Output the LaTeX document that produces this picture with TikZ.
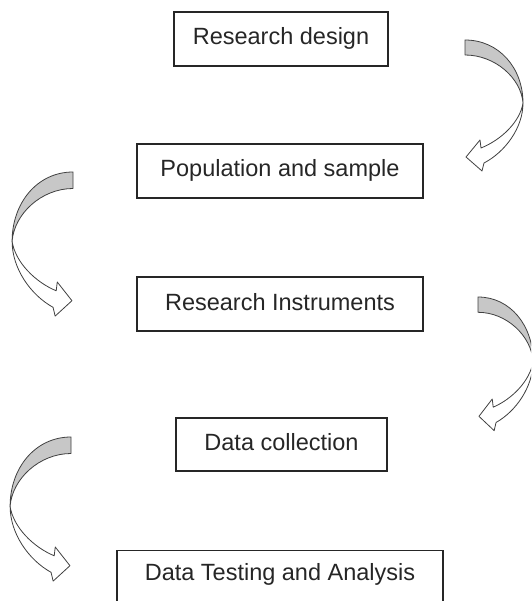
\documentclass[tikz,border=0pt]{standalone}
\usepackage{fontspec}
\setmainfont{Liberation Sans}

% bent arrow, drawn from the top corner of its tail
% #1 = tail corner, #2 = xscale (negative turns it to the left), #3 = yscale
\newcommand{\bendarrow}[3]{%
\begin{scope}[shift={#1},xscale=#2,yscale=#3]
\draw [twist] (0,0) .. controls (34,0) and (58,28) .. (58,63)
  .. controls (56,38) and (30,15) .. (0,15) -- cycle;
\draw [face] (58,63) .. controls (58,88) and (40,112) .. (19,123)
  -- (17,131) -- (1,117) -- (15,100) -- (16,108)
  .. controls (36,100) and (55,82) .. (58,63) -- cycle;
\end{scope}}

\begin{document}
\begin{tikzpicture}[x=1pt,y=-1pt,
  stage/.style={draw=black!85,line width=1.1pt,text=black!85,
    font=\fontsize{23.5}{28}\selectfont,inner sep=0pt,
    text height=17pt,text depth=5pt,minimum height=54pt},
  twist/.style={draw=black!75,line width=0.8pt,fill=black!22,line join=round},
  face/.style={draw=black!75,line width=0.8pt,fill=white,line join=round}]
\useasboundingbox (0,0) rectangle (531,601);
\clip (0,0) rectangle (531,601);

% the five steps
\node [stage,minimum width=214pt] (design) at (281,39) {Research design};
\node [stage,minimum width=286pt] (sample) at (280,171) {Population and sample};
\node [stage,minimum width=286pt] (instr) at (280,304) {Research Instruments};
\node [stage,minimum width=211pt,minimum height=53pt] (collect) at (281.5,444.5) {Data collection};
\node [stage,minimum width=326pt,text height=30pt,text depth=30pt,minimum height=0pt,anchor=north]
  (analysis) at (280,550) {Data Testing and Analysis};

% arrows between the steps
\bendarrow{(465,40)}{1}{1}
\bendarrow{(73,172)}{-1.05}{1.1}
\bendarrow{(478,297)}{0.95}{1.02}
\bendarrow{(71,437)}{-1.05}{1.1}

\end{tikzpicture}
\end{document}
